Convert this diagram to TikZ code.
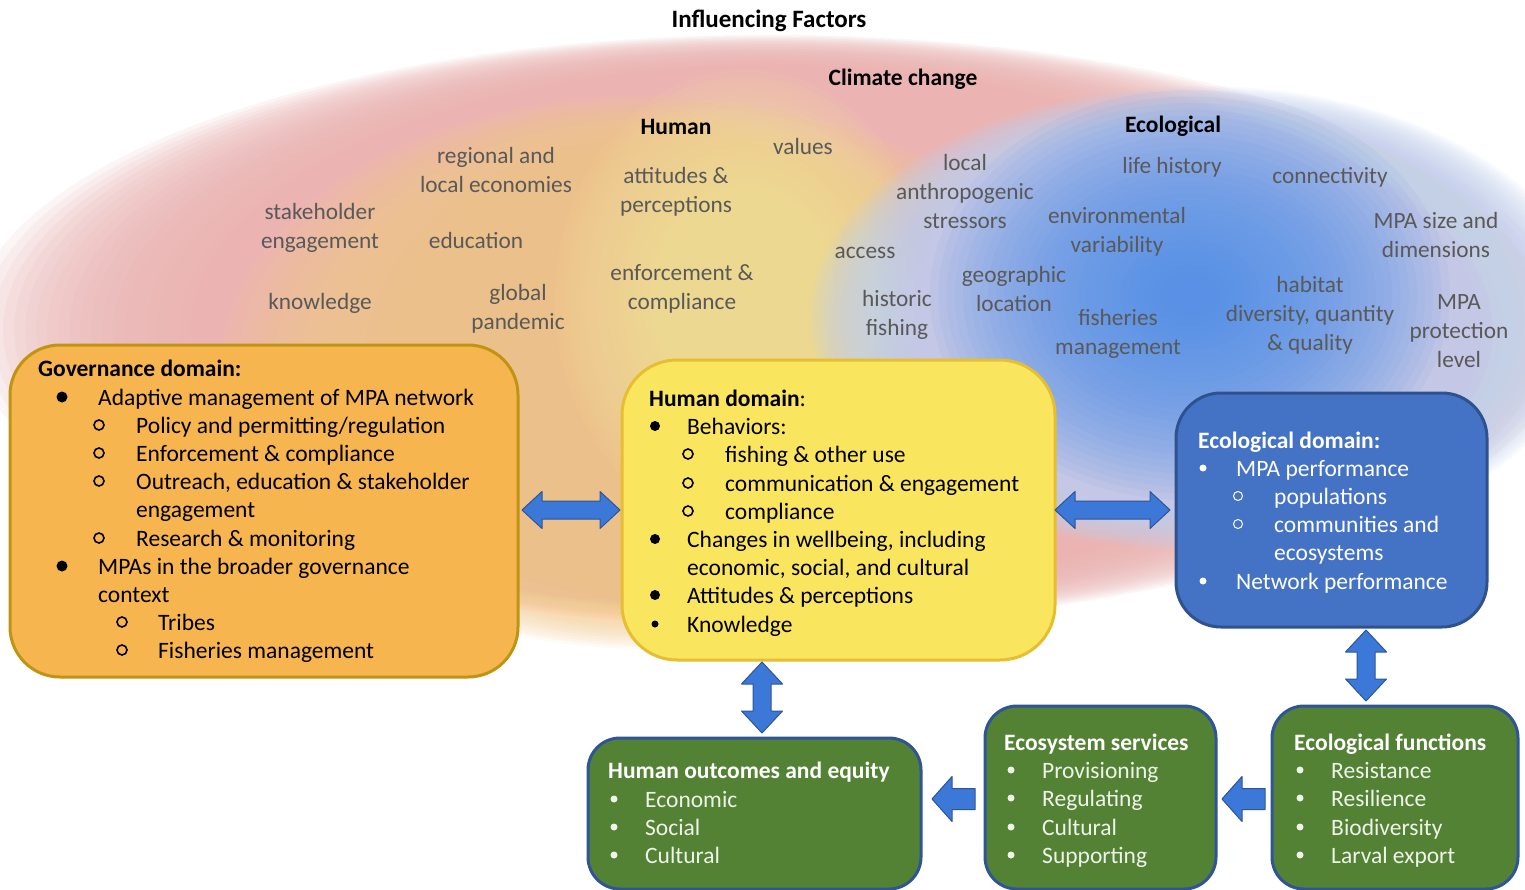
\documentclass[tikz,border=0pt]{standalone}
\usepackage{fontspec}
\setmainfont{Carlito}
\usetikzlibrary{calc}
\definecolor{pinkc}{HTML}{EBB4B2}
\definecolor{orangec}{HTML}{F7CB8A}
\definecolor{yellowc}{HTML}{FCE7A0}
\definecolor{lblue}{HTML}{C4D0EE}
\definecolor{sblue}{HTML}{4F90E6}
\definecolor{govfill}{HTML}{F7B550}
\definecolor{govline}{HTML}{BF9412}
\definecolor{humfill}{HTML}{FAE55E}
\definecolor{humline}{HTML}{E6BE30}
\definecolor{ecofill}{HTML}{4472C4}
\definecolor{ecoline}{HTML}{2F528F}
\definecolor{grnfill}{HTML}{548235}
\definecolor{grnline}{HTML}{2F5597}
\definecolor{arrfill}{HTML}{3C78D8}
\definecolor{arrline}{HTML}{2F5597}
\definecolor{facgray}{HTML}{595959}
\definecolor{grntext}{HTML}{EEF4EA}
% glow: color, cx, cy, rx, ry, inner fraction x, inner fraction y, layer opacity
\newcommand\glow[8]{%
  \foreach \k in {0,...,29}{%
    \pgfmathsetmacro\rxx{#4*(1-\k*(1-#6)/29)}%
    \pgfmathsetmacro\ryy{#5*(1-\k*(1-#7)/29)}%
    \fill[#1, fill opacity=#8] (#2,#3) ellipse [x radius=\rxx pt, y radius=\ryy pt];
  }}
\newcommand\DArrH[2]{\path[arrowshape] let \p1=(#1), \p2=(#2) in
  (\x1,\y1) -- (\x1+20pt,\y1+18.5pt) -- (\x1+20pt,\y1+9pt) -- (\x2-20pt,\y1+9pt) -- (\x2-20pt,\y1+18.5pt) -- (\x2,\y1)
  -- (\x2-20pt,\y1-18.5pt) -- (\x2-20pt,\y1-9pt) -- (\x1+20pt,\y1-9pt) -- (\x1+20pt,\y1-18.5pt) -- cycle;}
\newcommand\DArrV[2]{\path[arrowshape] let \p1=(#1), \p2=(#2) in
  (\x1,\y1) -- (\x1+20.5pt,\y1-22pt) -- (\x1+9pt,\y1-22pt) -- (\x1+9pt,\y2+22pt) -- (\x1+20.5pt,\y2+22pt) -- (\x1,\y2)
  -- (\x1-20.5pt,\y2+22pt) -- (\x1-9pt,\y2+22pt) -- (\x1-9pt,\y1-22pt) -- (\x1-20.5pt,\y1-22pt) -- cycle;}
\newcommand\LArr[2]{\path[arrowshape] let \p1=(#1), \p2=(#2) in
  (\x1,\y1) -- (\x1+20pt,\y1+22.5pt) -- (\x1+20pt,\y1+10.5pt) -- (\x2,\y1+10.5pt) -- (\x2,\y1-10.5pt)
  -- (\x1+20pt,\y1-10.5pt) -- (\x1+20pt,\y1-22.5pt) -- cycle;}
\begin{document}
\begin{tikzpicture}[x=1pt,y=-1pt,
  tx/.style={inner sep=0pt, anchor=base west, font=\fontsize{23.5}{28}\selectfont},
  txb/.style={tx, font=\bfseries\fontsize{23.5}{28}\selectfont},
  fac/.style={inner sep=0pt, align=center, text=facgray, font=\fontsize{23.3}{29}\selectfont},
  facb/.style={inner sep=0pt, text=black, font=\bfseries\fontsize{23.5}{29}\selectfont},
  box/.style={line width=3pt, inner sep=0pt, outer sep=0pt},
  ob/.style={line width=1.6pt},
  arrowshape/.style={fill=arrfill, draw=arrline, line width=1pt, line join=round}]
\useasboundingbox (0,0) rectangle (1525,890);
\fill[white] (0,0) rectangle (1525,890);
% background glows
\glow{pinkc}{770}{330}{800}{295}{0.6}{0.85}{0.124}
\glow{orangec}{650}{372}{430}{277}{0.4}{0.72}{0.089}
\glow{yellowc}{745}{300}{190}{230}{0.2}{0.2}{0.061}
\glow{lblue}{1200}{318}{390}{232}{0.72}{0.78}{0.103}
\glow{sblue}{1190}{295}{260}{205}{0.08}{0.08}{0.061}
% headings
\node[facb, font=\bfseries\fontsize{25}{30}\selectfont] (title) at (769,21) {Influencing Factors};
\node[facb] (climate) at (903,79) {Climate change};
\node[facb] (human) at (676,127) {Human};
\node[facb] (ecol) at (1173,126) {Ecological};
% factors
\node[fac] (f1) at (496,169.5) {regional and\\local economies};
\node[fac] (f2) at (803,146) {values};
\node[fac] (f3) at (676,191.5) {attitudes \&\\perceptions};
\node[fac] (f4) at (965,191.5) {local\\anthropogenic\\stressors};
\node[fac] (f5) at (1172,167) {life history};
\node[fac] (f6) at (1330,177) {connectivity};
\node[fac] (f7) at (320,227.5) {stakeholder\\engagement};
\node[fac] (f8) at (476,240) {education};
\node[fac] (f9) at (1117,232) {environmental\\variability};
\node[fac] (f10) at (1436,234.5) {MPA size and\\dimensions};
\node[fac] (f11) at (865,253) {access};
\node[fac] (f12) at (682,288.5) {enforcement \&\\compliance};
\node[fac] (f13) at (1014,289) {geographic\\location};
\node[fac] (f14) at (320,303) {knowledge};
\node[fac] (f15) at (518,309) {global\\pandemic};
\node[fac] (f16) at (897,315) {historic\\fishing};
\node[fac] (f17) at (1310,315.5) {habitat\\diversity, quantity\\\& quality};
\node[fac] (f18) at (1118,333.5) {fisheries\\management};
\node[fac] (f19) at (1459,331.5) {MPA\\protection\\level};
% boxes
\node[box, fill=govfill, draw=govline, rounded corners=50pt, minimum width=508pt, minimum height=332pt] (gov) at (264,511) {};
\node[box, fill=humfill, draw=humline, rounded corners=55pt, minimum width=433pt, minimum height=300pt] (hum) at (838.5,510) {};
\node[box, fill=ecofill, draw=ecoline, rounded corners=45pt, minimum width=311pt, minimum height=234pt] (eco) at (1331.5,510) {};
\node[box, fill=grnfill, draw=grnline, rounded corners=32pt, minimum width=333pt, minimum height=151pt] (outc) at (754.5,813.5) {};
\node[box, fill=grnfill, draw=grnline, rounded corners=32pt, minimum width=231pt, minimum height=183pt] (serv) at (1100.5,797.5) {};
\node[box, fill=grnfill, draw=grnline, rounded corners=32pt, minimum width=246pt, minimum height=183pt] (func) at (1395,797.5) {};
% governance text
\node[txb] (g0) at (38,376) {Governance domain:};
\fill (62,397) circle (5.5pt);
\node[tx] (g1) at (98,405) {Adaptive management of MPA network};
\draw[ob] (99,425) circle (5pt);
\node[tx] (g2) at (136,433) {Policy and permitting/regulation};
\draw[ob] (99,453) circle (5pt);
\node[tx] (g3) at (136,461) {Enforcement \& compliance};
\draw[ob] (99,481) circle (5pt);
\node[tx] (g4) at (136,489) {Outreach, education \& stakeholder};
\node[tx] (g5) at (136,517) {engagement};
\draw[ob] (99,538) circle (5pt);
\node[tx] (g6) at (136,546) {Research \& monitoring};
\fill (62,566) circle (5.5pt);
\node[tx] (g7) at (98,574) {MPAs in the broader governance};
\node[tx] (g8) at (98,602) {context};
\draw[ob] (122,622) circle (5pt);
\node[tx] (g9) at (158,630) {Tribes};
\draw[ob] (122,650) circle (5pt);
\node[tx] (g10) at (158,658) {Fisheries management};
% human domain text
\node[tx] (h0) at (649,406) {\textbf{Human domain}:};
\fill (655,426) circle (5pt);
\node[tx] (h1) at (687,434) {Behaviors:};
\draw[ob] (688,454) circle (5pt);
\node[tx] (h2) at (725,462) {fishing \& other use};
\draw[ob] (688,483) circle (5pt);
\node[tx] (h3) at (725,491) {communication \& engagement};
\draw[ob] (688,511) circle (5pt);
\node[tx] (h4) at (725,519) {compliance};
\fill (655,539) circle (5pt);
\node[tx] (h5) at (687,547) {Changes in wellbeing, including};
\node[tx] (h6) at (687,575) {economic, social, and cultural};
\fill (655,595) circle (5pt);
\node[tx] (h7) at (687,603) {Attitudes \& perceptions};
\fill (655,624) circle (3.5pt);
\node[tx] (h8) at (687,632) {Knowledge};
% ecological domain text
\begin{scope}[white]
\node[txb, text=white] (e0) at (1198,448) {Ecological domain:};
\fill (1203,468) circle (3.5pt);
\node[tx, text=white] (e1) at (1236,476) {MPA performance};
\draw[line width=1pt] (1238,496) circle (4.5pt);
\node[tx, text=white] (e2) at (1274,504) {populations};
\draw[line width=1pt] (1238,524) circle (4.5pt);
\node[tx, text=white] (e3) at (1274,532) {communities and};
\node[tx, text=white] (e4) at (1274,560) {ecosystems};
\fill (1203,581) circle (3.5pt);
\node[tx, text=white] (e5) at (1236,589) {Network performance};
\end{scope}
% green boxes text
\node[txb, text=white] (o0) at (608,778) {Human outcomes and equity};
\foreach \yy/\tt [count=\i] in {807/Economic, 835/Social, 863/Cultural}{
  \fill[grntext] (614,\yy-8) circle (3.5pt);
  \node[tx, text=grntext] (o\i) at (645,\yy) {\tt};
}
\node[txb, text=white] (s0) at (1004,750) {Ecosystem services};
\foreach \yy/\tt [count=\i] in {778/Provisioning, 806/Regulating, 835/Cultural, 863/Supporting}{
  \fill[grntext] (1011,\yy-8) circle (3.5pt);
  \node[tx, text=grntext] (s\i) at (1042,\yy) {\tt};
}
\node[txb, text=white] (fn0) at (1294,750) {Ecological functions};
\foreach \yy/\tt [count=\i] in {778/Resistance, 806/Resilience, 835/Biodiversity, 863/Larval export}{
  \fill[grntext] (1300,\yy-8) circle (3.5pt);
  \node[tx, text=grntext] (fn\i) at (1331,\yy) {\tt};
}
% arrows
\coordinate (a1s) at (522,510);
\coordinate (a1e) at (620,510);
\coordinate (a2s) at (1055,510);
\coordinate (a2e) at (1170,510);
\coordinate (v1s) at (762,662);
\coordinate (v1e) at (762,733);
\coordinate (v2s) at (1366,630);
\coordinate (v2e) at (1366,701);
\coordinate (l1t) at (932,799);
\coordinate (l1e) at (975,799);
\coordinate (l2t) at (1222,799);
\coordinate (l2e) at (1265,799);
\DArrH{a1s}{a1e}
\DArrH{a2s}{a2e}
\DArrV{v1s}{v1e}
\DArrV{v2s}{v2e}
\LArr{l1t}{l1e}
\LArr{l2t}{l2e}
\end{tikzpicture}
\end{document}
